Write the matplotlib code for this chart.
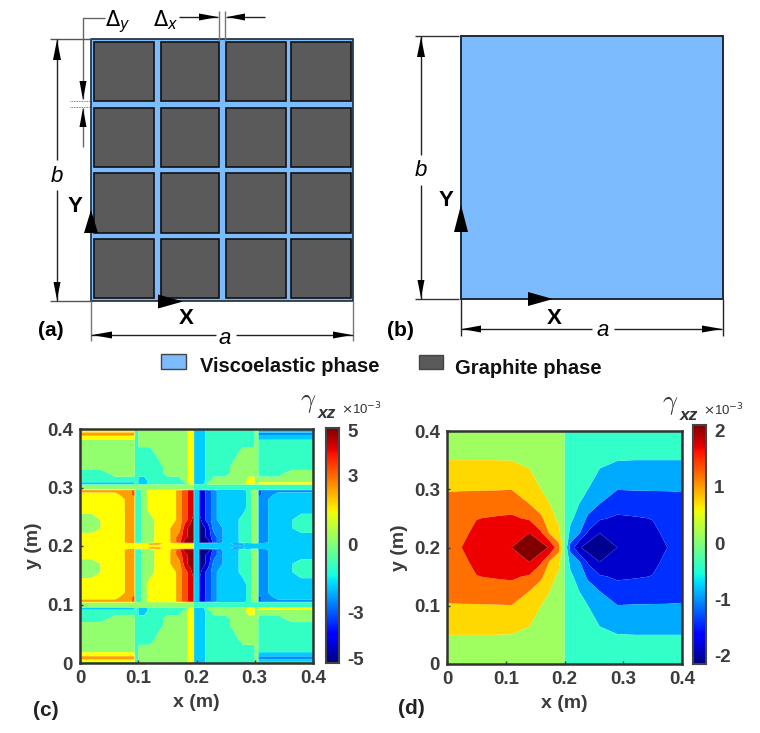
import numpy as np
import matplotlib
matplotlib.use("Agg")
import matplotlib.pyplot as plt
from matplotlib.patches import Rectangle, Polygon

plt.rcParams['font.family'] = ['Liberation Sans', 'DejaVu Sans']
W, H = 760, 733
INK = '#3c3c3c'
BLUE = '#7dbbff'
GRAPH = '#5a5a5a'

# ---------- panel (c): band values, upper-left quadrant
G, Y, P, O, R, S, D, T, C = 0.4, 1.2, 1.5, 2.0, 2.8, 3.6, 4.5, -0.4, -1.2
M = 0.8
c_x_left = [0, .02, .035, .06, .075, .085, .093, .095, .099, .101, .11, .12, .135, .15, .16, .17, .18, .19, .195]
c_y_up = [.2, .204, .206, .215, .23, .245, .265, .28, .288, .295, .297, .304, .306, .312, .325, .335, .36, .378, .385, .392, .4]
c_x_gap = [.196, .204]
c_gap_values = [-1, -1, -1, -1, -1, -1, -1, -1, -1, -1, -.4, -.4, -1, -1, -1, -1, -1, -1, -1, -1, -1]
c_rows = [
    [Y, Y, Y, Y, Y, Y, Y, Y, Y, Y, Y, Y, Y, Y, Y, Y, Y, Y, Y],
    [Y, Y, Y, Y, Y, Y, Y, Y, Y, Y, Y, O, O, Y, Y, Y, Y, Y, Y],
    [Y, Y, Y, Y, P, O, O, T, T, T, G, G, Y, Y, O, R, D, D, D],
    [Y, Y, Y, Y, P, O, O, T, T, T, G, G, Y, Y, O, R, S, D, D],
    [G, G, M, Y, P, O, O, T, T, T, G, G, Y, Y, O, O, S, D, D],
    [G, G, M, Y, P, O, O, T, T, T, G, G, Y, Y, Y, O, R, S, D],
    [Y, Y, Y, Y, P, O, O, T, T, T, G, Y, Y, Y, Y, O, R, S, S],
    [Y, Y, Y, Y, P, O, O, T, T, T, G, Y, Y, Y, Y, O, R, S, S],
    [Y, Y, Y, Y, O, O, R, T, T, T, G, Y, Y, Y, Y, O, R, S, S],
    [O, O, O, O, O, O, R, T, T, T, G, Y, Y, Y, Y, O, R, S, S],
    [G, G, G, G, G, G, G, G, G, G, G, G, G, G, G, G, G, G, G],
    [G, G, G, G, G, G, G, G, G, G, G, G, G, G, G, G, G, G, G],
    [C, C, C, C, C, C, C, T, T, C, C, T, T, T, T, T, T, Y, Y],
    [T, T, T, T, T, T, T, T, T, C, C, T, T, T, T, T, G, Y, Y],
    [T, T, T, G, G, G, G, T, T, T, T, T, T, G, G, G, G, Y, Y],
    [G, G, G, G, G, G, G, T, T, T, T, T, T, G, G, G, G, Y, Y],
    [G, G, G, G, G, G, G, T, T, T, T, T, G, G, G, G, G, Y, Y],
    [G, G, G, G, G, G, G, T, T, G, G, G, G, G, G, G, G, Y, Y],
    [Y, Y, Y, Y, Y, Y, Y, T, T, G, G, G, G, G, G, G, G, Y, Y],
    [O, O, O, O, O, O, O, T, T, G, G, G, G, G, G, G, G, Y, Y],
    [G, G, G, G, G, G, G, T, T, G, G, G, G, G, G, G, G, Y, Y],
]
c_levels = [-6, -4, -3.2, -2.4, -1.6, -.8, 0, .8, 1.6, 2.4, 3.2, 4, 6]
c_colors = ['#000088', '#0000e6', '#0050ff', '#0090ff', '#00ccff', '#33ffc4',
            '#93ff6e', '#ffff00', '#ffa000', '#ff5000', '#e00000', '#960000']

# ---------- panel (d): band values, upper-left quadrant
d_x_left = [0, .025, .05, .08, .11, .14, .16, .175, .19, .2]
d_y_up = [.2, .225, .25, .275, .3, .35, .4]
d_columns = [
    [1.18, 1.12, 1.05, .92, .77, .4, .1],
    [1.20, 1.13, 1.06, .93, .78, .4, .1],
    [1.40, 1.27, 1.19, .95, .78, .4, .1],
    [1.50, 1.35, 1.23, 1.0, .78, .4, .1],
    [1.60, 1.42, 1.26, 1.03, .79, .39, .1],
    [1.90, 1.60, 1.15, .80, .60, .32, .08],
    [1.80, 1.25, .87, .60, .40, .22, .06],
    [1.55, .75, .55, .40, .28, .15, .04],
    [.95, .50, .32, .22, .15, .08, .02],
    [0, 0, 0, 0, 0, 0, 0],
]
d_levels = [-2.2, -1.6, -1.2, -.8, -.4, 0, .4, .8, 1.2, 1.6, 2.2]
d_colors = ['#000090', '#0000cc', '#0030ff', '#00aaff', '#33ffc8',
            '#a0ff60', '#ffd800', '#ff7000', '#ee0000', '#800000']

ticks_xy = [0, .1, .2, .3, .4]
tick_labels_xy = ['0', '0.1', '0.2', '0.3', '0.4']
c_cbar_ticks = [5, 3, 0, -3, -5]
d_cbar_ticks = [2, 1, 0, -1, -2]

fig = plt.figure(figsize=(W / 100, H / 100), dpi=100, facecolor='white')


def axes_px(x0, y0, x1, y1, **kw):
    return fig.add_axes([x0 / W, 1 - y1 / H, (x1 - x0) / W, (y1 - y0) / H], **kw)


def contour_panel(box, x, y, z, levels, colors):
    ax = axes_px(*box)
    ax.contourf(x, y, z, levels=levels, colors=colors, antialiased=True)
    ax.set_xlim(0, .4)
    ax.set_ylim(0, .4)
    ax.set_xticks(ticks_xy, tick_labels_xy)
    ax.set_yticks(ticks_xy, tick_labels_xy)
    ax.tick_params(direction='in', length=2, width=1, colors=INK, labelsize=13.5, pad=5)
    for lab in ax.get_xticklabels() + ax.get_yticklabels():
        lab.set_fontweight('bold')
    for s in ax.spines.values():
        s.set_linewidth(1.8)
        s.set_color('#333333')
    ax.set_xlabel('x (m)', fontsize=14, fontweight='bold', color=INK, labelpad=5)
    ax.set_ylabel('y (m)', fontsize=14, fontweight='bold', color=INK, labelpad=4)
    return ax


def colorbar_panel(box, lo, hi, ticks):
    ax = axes_px(*box)
    grad = np.linspace(hi, lo, 256).reshape(-1, 1)
    ax.imshow(grad, cmap='jet', aspect='auto', vmin=lo, vmax=hi, extent=[0, 1, lo, hi])
    ax.set_xticks([])
    ax.yaxis.tick_right()
    ax.set_yticks(ticks, [str(t) for t in ticks])
    ax.tick_params(axis='y', length=0, colors=INK, labelsize=13.5, pad=6)
    for lab in ax.get_yticklabels():
        lab.set_fontweight('bold')
    for s in ax.spines.values():
        s.set_linewidth(1.5)
        s.set_color('#444444')


# panel (c)
cl = np.array(c_rows, float)
cg = np.array(c_gap_values, float)[:, None]
c_half = np.hstack([cl, cg, cg, -cl[:, ::-1]])
c_z = np.vstack([c_half[::-1][:-1], c_half])
c_x = np.r_[c_x_left, c_x_gap, .4 - np.array(c_x_left)[::-1]]
c_y = np.r_[.4 - np.array(c_y_up)[::-1][:-1], c_y_up]
contour_panel((80, 429, 313, 663), c_x, c_y, c_z, c_levels, c_colors)
colorbar_panel((325.5, 428, 339, 663), -5.2, 5.1, c_cbar_ticks)

# panel (d)
dl = np.array(d_columns, float).T
d_half = np.hstack([dl, -dl[:, ::-1][:, 1:]])
d_z = np.vstack([d_half[::-1][:-1], d_half])
d_x = np.r_[d_x_left, .4 - np.array(d_x_left)[::-1][1:]]
d_y = np.r_[.4 - np.array(d_y_up)[::-1][:-1], d_y_up]
contour_panel((447, 431, 682, 664), d_x, d_y, d_z, d_levels, d_colors)
colorbar_panel((693, 425, 706, 664), -2.15, 2.1, d_cbar_ticks)

# ---------- pixel overlay for the schematics and annotations
ov = fig.add_axes([0, 0, 1, 1], zorder=5)
ov.set_xlim(0, W)
ov.set_ylim(H, 0)
ov.axis('off')
ov.patch.set_alpha(0)

LINE = '#222222'


def line(xs, ys, c=LINE, lw=1.0, **kw):
    ov.plot(xs, ys, color=c, lw=lw, solid_capstyle='butt', **kw)


def tri(tip, base_center, hw):
    tx, ty = tip
    bx, by = base_center
    dx, dy = tx - bx, ty - by
    n = np.hypot(dx, dy)
    px, py = -dy / n * hw, dx / n * hw
    ov.add_patch(Polygon([tip, (bx + px, by + py), (bx - px, by - py)], closed=True, fc='black', ec='none', zorder=6))


def label(x, y, s, size=14, weight='bold', style='normal', color='black'):
    ov.text(x, y, s, fontsize=size, fontweight=weight, fontstyle=style, color=color, ha='center', va='center', zorder=7)


# panel (a)
ov.add_patch(Rectangle((91, 39), 262, 262, fc=BLUE, ec='#1c2a3a', lw=1.2))
block_x = [(94.3, 154.3), (160.7, 219.3), (225.7, 285.7), (291.3, 350.7)]
block_y = [(41.7, 101.3), (107.7, 166.7), (172.7, 232.7), (239.3, 298.3)]
for bx0, bx1 in block_x:
    for by0, by1 in block_y:
        ov.add_patch(Rectangle((bx0, by0), bx1 - bx0, by1 - by0, fc=GRAPH, ec='#111111', lw=1.2))

# b dimension
line([50, 91], [39, 39], '#555555')
line([50, 91], [301, 301], '#555555')
line([57, 57], [39, 160]); line([57, 57], [190, 301])
tri((57, 40), (57, 60), 4); tri((57, 300), (57, 282), 3.5)
label(57, 176, 'b', 16, 'normal', 'italic')
# a dimension
line([91, 91], [301, 341], '#777777'); line([353, 353], [301, 341], '#777777')
line([91, 216], [335, 335]); line([236, 353], [335, 335])
tri((92, 335), (112, 335), 3.5); tri((352, 335), (333, 335), 3.5)
label(225, 338, 'a', 16, 'normal', 'italic')
# delta y
line([105, 83, 83], [18, 18, 99], '#666666')
tri((83, 100), (83, 81), 3.5)
line([83, 83], [108, 147], '#666666')
tri((83, 108), (83, 127), 3.5)
line([70, 90], [100.5, 100.5], '#555555', ls=(0, (1, 1)), lw=.6)
line([70, 90], [107, 107], '#555555', ls=(0, (1, 1)), lw=.6)
ov.text(105, 22, r'$\mathit{\Delta_y}$', fontsize=15, ha='left', va='center', math_fontfamily='dejavusans')
# delta x
line([179, 218], [17, 17]); line([226, 265], [17, 17])
tri((218, 17), (199, 17), 3.5); tri((227, 17), (245, 17), 3.5)
line([218.5, 218.5], [11, 41], '#777777'); line([225, 225], [11, 41], '#777777')
ov.text(153, 20, r'$\mathit{\Delta_x}$', fontsize=15, ha='left', va='center', math_fontfamily='dejavusans')
# axes arrows
tri((91, 210), (91, 233), 7); label(75, 207, 'Y', 16)
tri((183, 301.5), (158, 301.5), 7); label(186, 318, 'X', 16)
label(51, 331, '(a)', 15)

# panel (b)
ov.add_patch(Rectangle((460.7, 36), 262, 262.7, fc=BLUE, ec='#1c2a3a', lw=1.4))
line([415, 459], [36, 36], '#333333'); line([415, 459], [298.7, 298.7], '#333333')
line([421, 421], [36, 155]); line([421, 421], [185, 298.7])
tri((421, 37), (421, 57), 4); tri((421, 298), (421, 280), 3.5)
label(421, 170, 'b', 16, 'normal', 'italic')
line([460.7, 460.7], [298.7, 336]); line([722.7, 722.7], [298.7, 336])
line([461, 592], [329, 329]); line([614, 722], [329, 329])
tri((462, 329), (481, 329), 3.5); tri((722, 329), (702, 329), 3.5)
label(603, 331, 'a', 16, 'normal', 'italic')
tri((461, 205), (461, 232), 7); label(446, 200, 'Y', 16)
tri((553, 299), (528, 299), 7); label(554, 318, 'X', 16)
label(400, 331, '(b)', 15)

# legend
ov.add_patch(Rectangle((161, 354), 25, 15, fc=BLUE, ec='#444444', lw=1))
ov.text(200, 366, 'Viscoelastic phase', fontsize=14.5, fontweight='bold', color='#111111', ha='left', va='center')
ov.add_patch(Rectangle((419, 355), 24, 14, fc=GRAPH, ec='#444444', lw=1))
ov.text(455, 368, 'Graphite phase', fontsize=14.5, fontweight='bold', color='#111111', ha='left', va='center')

# colourbar captions
for gx, gy, zx, tx, ty in [(308, 403, 318, 341, 409), (670, 405, 680, 703, 410)]:
    ov.text(gx, gy, r'$\gamma$', fontsize=19, color='#333333', ha='center', va='center', math_fontfamily='cm')
    ov.text(zx, gy + 10, 'xz', fontsize=12.5, fontweight='bold', fontstyle='italic', color='#333333', ha='left', va='center')
    ov.text(tx, ty, r'$\times$10$^{-3}$', fontsize=9.5, color='#333333', ha='left', va='center', math_fontfamily='dejavusans')

# panel letters
label(46, 711, '(c)', 15, color='#222222')
label(411, 709, '(d)', 15, color='#222222')

fig.savefig('out.png', dpi=100)
